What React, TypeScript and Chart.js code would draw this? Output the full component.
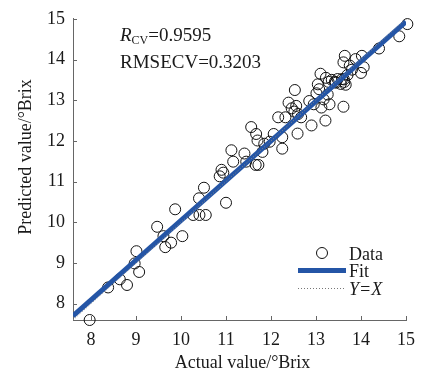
import { useEffect, useRef } from "react";
import { Chart, registerables } from "chart.js";

Chart.register(...registerables);

const actualValues = [
  7.97, 8.38, 8.64, 8.8, 8.97, 9.01, 9.07, 9.47, 9.61, 9.65, 9.78, 9.87, 10.03, 10.27, 10.4, 10.41, 10.55, 10.51, 11.0,
  10.86, 10.9, 10.94, 11.12, 11.16, 11.41, 11.45, 11.56, 11.67, 11.7, 11.66, 11.72, 11.85, 11.81, 11.97, 12.06, 12.25, 12.25,
  12.16, 12.32, 12.39, 12.53, 12.46, 12.52, 12.56, 12.59, 12.67, 12.6,
  12.9, 12.95, 13.01, 13.04, 13.07, 13.1, 13.12, 13.17, 13.21, 13.22, 13.3, 13.28, 13.35, 13.42, 13.48, 13.55, 13.58, 13.62,
  13.63, 13.66, 13.61, 13.61, 13.64, 13.8, 13.88, 14.0, 14.02, 14.06, 13.7, 13.75, 14.4, 14.85, 15.03, 13.26, 12.85, 13.44,
];
const predictedValues = [
  7.6, 8.4, 8.6, 8.46, 8.99, 9.29, 8.78, 9.89, 9.66, 9.39, 9.5, 10.32, 9.66, 10.18, 10.59, 10.18, 10.18, 10.85, 10.48,
  11.13, 11.29, 11.22, 11.77, 11.49, 11.69, 11.49, 12.34, 12.17, 12.01, 11.41, 11.41, 11.93, 11.73, 11.98, 12.17, 12.09, 11.81,
  12.58, 12.58, 12.94, 13.25, 12.8, 12.72, 12.86, 12.18, 12.58, 12.66,
  12.38, 12.9, 13.17, 13.39, 13.27, 13.65, 12.82, 13.02, 12.5, 13.55, 12.9, 13.45, 13.5, 13.45, 13.52, 13.4, 13.52, 13.51,
  13.45, 13.38, 12.84, 13.93, 14.09, 13.75, 14.01, 13.67, 14.09, 13.81, 13.62, 13.85, 14.27, 14.57, 14.87, 13.14, 12.98, 13.43,
];
const fitX = [7.6, 15.0];
const fitY = [7.7, 14.93];
const identityX = [7.6, 15.0];
const identityY = [7.6, 15.0];
const tickValues = [8, 9, 10, 11, 12, 13, 14, 15];
const xTitle = "Actual value/°Brix";
const yTitle = "Predicted value/°Brix";
const rMain = "R";
const rSub = "CV";
const rValue = "=0.9595";
const rmseText = "RMSECV=0.3203";
const legendLabels = ["Data", "Fit"];
const legendYX = "Y=X";

const SERIF = '"Liberation Serif", "Times New Roman", serif';
const BLUE = "#2455a6";
const AXIS = "#666";
const TEXT = "#1a1a1a";

const overlay = {
  id: "overlay",
  afterDraw(chart: any) {
    const ctx = chart.ctx;
    const { left, right, top, bottom } = chart.chartArea;
    const xs = chart.scales.x;
    const ys = chart.scales.y;
    ctx.save();
    ctx.strokeStyle = AXIS;
    ctx.lineWidth = 1;
    tickValues.forEach((v) => {
      const px = Math.round(xs.getPixelForValue(v)) + 0.5;
      ctx.beginPath();
      ctx.moveTo(px, bottom);
      ctx.lineTo(px, bottom - 4);
      ctx.stroke();
      const py = Math.round(ys.getPixelForValue(v)) + 0.5;
      ctx.beginPath();
      ctx.moveTo(left, py);
      ctx.lineTo(left + 4, py);
      ctx.stroke();
    });
    ctx.fillStyle = TEXT;
    ctx.font = `18px ${SERIF}`;
    ctx.textAlign = "center";
    ctx.textBaseline = "alphabetic";
    ctx.fillText(xTitle, (left + right) / 2 + 3, 368);
    ctx.save();
    ctx.translate(31, 157);
    ctx.rotate(-Math.PI / 2);
    ctx.fillText(yTitle, 0, 0);
    ctx.restore();
    ctx.textAlign = "left";
    ctx.font = `italic 19px ${SERIF}`;
    ctx.fillText(rMain, 120, 41);
    const rw = ctx.measureText(rMain).width;
    ctx.font = `12px ${SERIF}`;
    ctx.fillText(rSub, 120 + rw, 44);
    const sw = ctx.measureText(rSub).width;
    ctx.font = `19px ${SERIF}`;
    ctx.fillText(rValue, 120 + rw + sw, 41);
    ctx.fillText(rmseText, 120, 68);
    ctx.strokeStyle = "#111";
    ctx.lineWidth = 1;
    ctx.beginPath();
    ctx.arc(322, 253, 5.5, 0, Math.PI * 2);
    ctx.stroke();
    ctx.strokeStyle = BLUE;
    ctx.lineWidth = 5;
    ctx.beginPath();
    ctx.moveTo(298, 270.5);
    ctx.lineTo(346, 270.5);
    ctx.stroke();
    ctx.strokeStyle = "#777";
    ctx.lineWidth = 1;
    ctx.setLineDash([1, 2]);
    ctx.beginPath();
    ctx.moveTo(298, 288.5);
    ctx.lineTo(346, 288.5);
    ctx.stroke();
    ctx.setLineDash([]);
    ctx.fillStyle = TEXT;
    ctx.font = `18px ${SERIF}`;
    ctx.fillText(legendLabels[0], 349, 260);
    ctx.fillText(legendLabels[1], 349, 277);
    ctx.font = `italic 18px ${SERIF}`;
    ctx.fillText(legendYX, 349, 295);
    ctx.restore();
  },
};

export default function App() {
  const ref = useRef<HTMLCanvasElement | null>(null);
  useEffect(() => {
    if (!ref.current) return;
    const points = actualValues.map((x, i) => ({ x, y: predictedValues[i] }));
    const fit = fitX.map((x, i) => ({ x, y: fitY[i] }));
    const ident = identityX.map((x, i) => ({ x, y: identityY[i] }));
    const tickFont = { family: SERIF, size: 18 };
    const chart = new Chart(ref.current, {
      type: "scatter",
      data: {
        datasets: [
          {
            type: "line",
            label: legendYX,
            data: ident,
            borderColor: "#888",
            borderWidth: 1,
            borderDash: [1, 2],
            pointRadius: 0,
            fill: false,
          } as any,
          {
            type: "line",
            label: legendLabels[1],
            data: fit,
            borderColor: BLUE,
            borderWidth: 5,
            pointRadius: 0,
            fill: false,
          } as any,
          {
            label: legendLabels[0],
            data: points,
            pointStyle: "circle",
            pointRadius: 5.5,
            borderColor: "#111",
            borderWidth: 1,
            backgroundColor: "rgba(0,0,0,0)",
            clip: false,
          } as any,
        ],
      },
      options: {
        responsive: false,
        animation: false,
        layout: { padding: { top: 15, right: 11, left: 0, bottom: 0 } },
        plugins: { legend: { display: false }, tooltip: { enabled: false } },
        scales: {
          x: {
            type: "linear",
            min: 7.6,
            max: 15,
            afterBuildTicks: (s: any) => {
              s.ticks = tickValues.map((v) => ({ value: v }));
            },
            afterFit: (s: any) => {
              s.height = 54;
            },
            grid: { display: false, drawTicks: false },
            border: { display: true, color: AXIS, width: 1 },
            ticks: { font: tickFont, color: TEXT, padding: 9, maxRotation: 0 },
          },
          y: {
            type: "linear",
            min: 7.6,
            max: 15,
            afterBuildTicks: (s: any) => {
              s.ticks = tickValues.map((v) => ({ value: v }));
            },
            afterFit: (s: any) => {
              s.width = 73;
            },
            grid: { display: false, drawTicks: false },
            border: { display: true, color: AXIS, width: 1 },
            ticks: { font: tickFont, color: TEXT, padding: 8 },
          },
        },
      },
      plugins: [overlay],
    });
    return () => chart.destroy();
  }, []);
  return (
    <div style={{ position: "absolute", left: 0, top: 0, width: 424, height: 374, background: "#fff" }}>
      <canvas ref={ref} width={424} height={374} />
    </div>
  );
}
